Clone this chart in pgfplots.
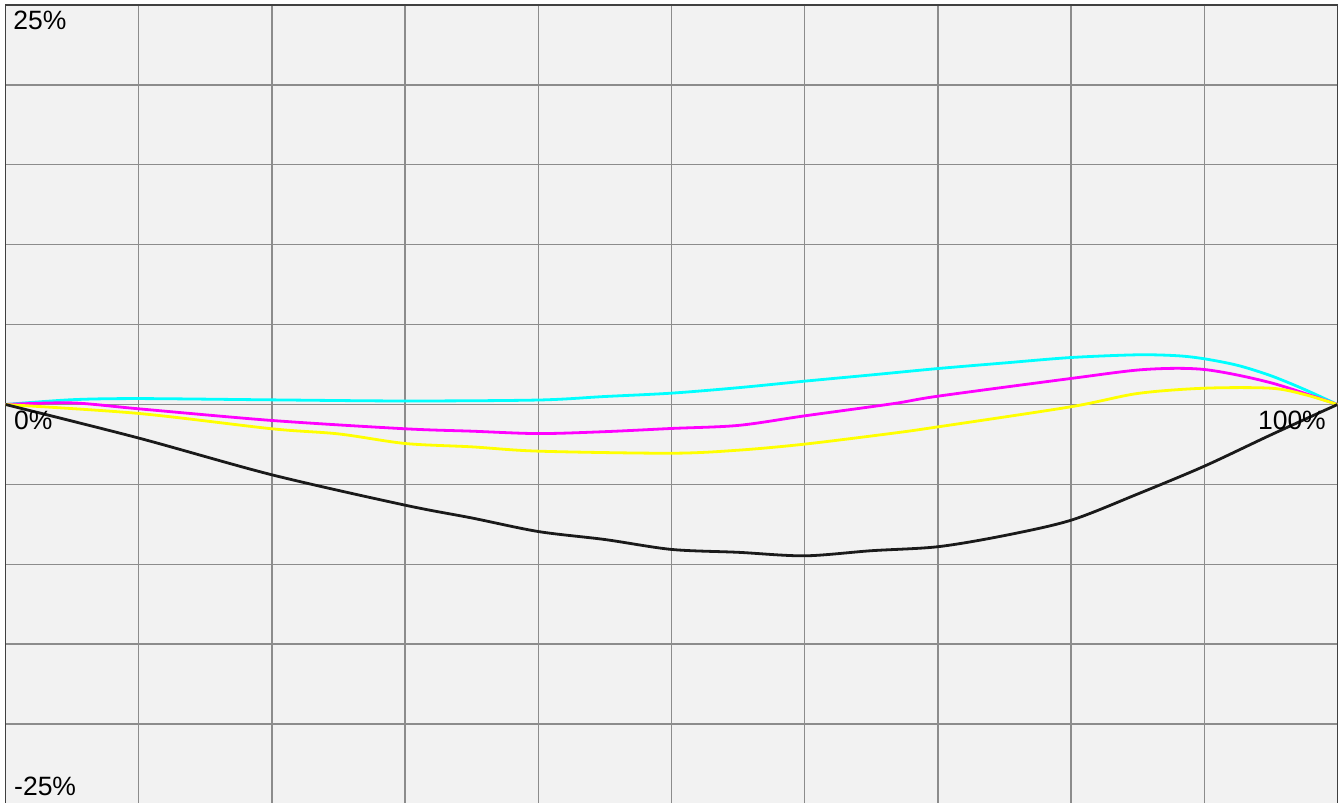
\documentclass[border=0pt]{standalone}
\usepackage{pgfplots}
\pgfplotsset{compat=1.18}
\usepackage{fontspec}
\setmainfont{Liberation Sans}
\definecolor{bgcol}{HTML}{F2F2F2}
\definecolor{gridcol}{HTML}{8C8C8C}
\definecolor{framecol}{HTML}{404040}
\definecolor{blk}{HTML}{1A1A1A}
\definecolor{cyn}{RGB}{0,255,255}
\definecolor{mag}{RGB}{255,0,255}
\definecolor{yel}{RGB}{255,255,0}
\begin{document}
\begin{tikzpicture}
\begin{axis}[
  name=ax,
  at={(0,0)}, anchor=south west,
  scale only axis,
  width=1332bp, height=799bp,
  xmin=0, xmax=100, ymin=-25, ymax=25,
  xtick={0,10,...,100}, ytick={-25,-20,...,25},
  xticklabels={}, yticklabels={},
  major tick length=0pt,
  grid=major,
  grid style={draw=gridcol, line width=1.4bp},
  axis line style={draw=framecol, line width=1.8bp},
  axis background/.style={fill=bgcol},
  clip=true,
  every axis plot/.append style={line width=2.8bp, smooth, tension=0.5, mark=none},
]
% cyan
\addplot[color=cyn] coordinates {
(0,0) (5,0.3) (10,0.37) (20,0.29) (30,0.22) (40,0.28) (45,0.5) (50,0.71) (55,1.05) (60,1.46) (65,1.85) (70,2.25) (75,2.6) (80,2.94) (85,3.11) (88,3.05) (90,2.86) (92.5,2.45) (95,1.8) (97.5,0.95) (100,0)};
% magenta
\addplot[color=mag] coordinates {
(0,0) (5,0.1) (10,-0.27) (20,-1.0) (30,-1.52) (35,-1.67) (40,-1.82) (45,-1.7) (50,-1.5) (55,-1.31) (60,-0.71) (66.7,0.06) (70,0.52) (80,1.63) (85.5,2.19) (90,2.19) (95,1.36) (100,0)};
% yellow
\addplot[color=yel] coordinates {
(0,0) (10,-0.56) (20,-1.52) (25,-1.84) (30,-2.44) (35,-2.65) (40,-2.92) (50,-3.05) (55,-2.86) (60,-2.48) (66.7,-1.79) (70,-1.4) (80,-0.14) (85,0.69) (90,1.02) (95,1.02) (97.5,0.63) (100,0)};
% black
\addplot[color=blk] coordinates {
(0,0) (10,-2.1) (20,-4.4) (30,-6.3) (35,-7.1) (40,-7.95) (45,-8.45) (50,-9.07) (55,-9.25) (60,-9.47) (65,-9.15) (70,-8.9) (75,-8.2) (80,-7.24) (85,-5.6) (90,-3.86) (95,-1.9) (100,0)};
\end{axis}
\begin{scope}[every node/.style={inner sep=0pt, font=\fontsize{26.5bp}{30bp}\selectfont}]
\node[anchor=base west] at ([xshift=7.8bp,yshift=-24.5bp]ax.north west) {25\%};
\node[anchor=base west] at ([xshift=8.5bp,yshift=-25bp]ax.west) {0\%};
\node[anchor=base east] at ([xshift=-11.5bp,yshift=-25bp]ax.east) {100\%};
\node[anchor=base west] at ([xshift=8.5bp,yshift=9bp]ax.south west) {-25\%};
\end{scope}
\pgfresetboundingbox
\path[use as bounding box] ([xshift=-5.5bp,yshift=1bp]ax.south west) rectangle ([xshift=2.5bp,yshift=5bp]ax.north east);
\end{tikzpicture}
\end{document}
